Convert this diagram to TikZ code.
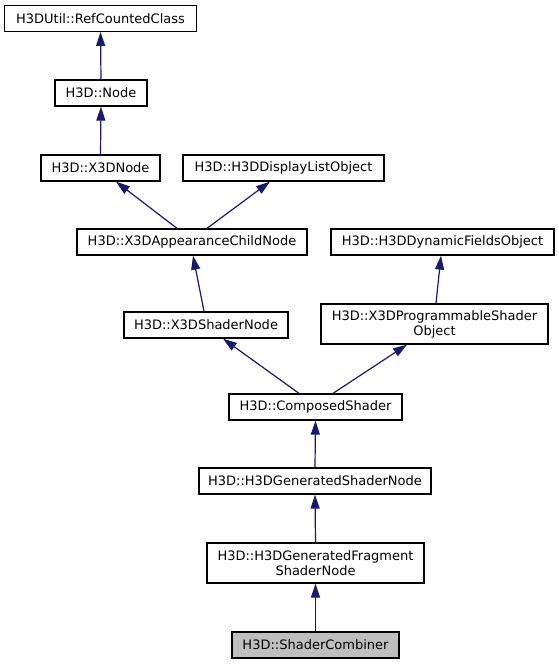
\documentclass[tikz,border=0pt]{standalone}
\usepackage{fontspec}
\setmainfont{DejaVu Sans}
\usepackage{tikz}
\usetikzlibrary{arrows.meta}
\definecolor{edgeblue}{HTML}{191970}
\definecolor{thisgray}{HTML}{BFBFBF}

\begin{document}
\begin{tikzpicture}[x=1pt,y=-1pt,>={Triangle[length=14pt,width=9pt]},
  class node/.style={rectangle,draw=black,line width=1.3pt,inner sep=0pt,
    minimum height=26pt,align=center,font=\fontsize{13}{15}\selectfont}]

  \useasboundingbox (0,0) rectangle (559,664);

  \node[class node,minimum width=192pt] (ref) at (100.5,18.3) {H3DUtil::RefCountedClass};
  \node[class node,minimum width=92pt] (node) at (101,93) {H3D::Node};
  \node[class node,minimum width=119pt] (x3dnode) at (100.5,168) {H3D::X3DNode};
  \node[class node,minimum width=201pt] (displist) at (283.5,168) {H3D::H3DDisplayListObject};
  \node[class node,minimum width=230pt] (appchild) at (192,242) {H3D::X3DAppearanceChildNode};
  \node[class node,minimum width=223pt] (dynfields) at (442.5,242) {H3D::H3DDynamicFieldsObject};
  \node[class node,minimum width=164pt] (shadernode) at (206,325) {H3D::X3DShaderNode};
  \node[class node,minimum width=227pt,minimum height=40pt] (progshader) at (434.5,324) {H3D::X3DProgrammableShader\\Object};
  \node[class node,minimum width=173pt] (composed) at (315.5,407) {H3D::ComposedShader};
  \node[class node,minimum width=232pt] (generated) at (315,481) {H3D::H3DGeneratedShaderNode};
  \node[class node,minimum width=217pt,minimum height=40pt] (fragment) at (315.5,563) {H3D::H3DGeneratedFragment\\ShaderNode};
  \node[class node,minimum width=167pt,fill=thisgray] (combiner) at (315.5,645) {H3D::ShaderCombiner};

  \path[every edge/.style={draw=edgeblue,line width=1.2pt,->}]
    (node.north) edge (ref.south)
    (x3dnode.north) edge (node.south)
    ([xshift=-15pt]appchild.north) edge ([xshift=15.5pt]x3dnode.south)
    ([xshift=15pt]appchild.north) edge ([xshift=-13.5pt]displist.south)
    ([xshift=-2pt]shadernode.north) edge ([xshift=1pt]appchild.south)
    ([xshift=1.5pt]progshader.north) edge ([xshift=-1.5pt]dynfields.south)
    ([xshift=-16.5pt]composed.north) edge ([xshift=17pt]shadernode.south)
    ([xshift=17.5pt]composed.north) edge ([xshift=-27.5pt]progshader.south)
    (generated.north) edge (composed.south)
    (fragment.north) edge (generated.south)
    (combiner.north) edge (fragment.south);
\end{tikzpicture}
\end{document}
